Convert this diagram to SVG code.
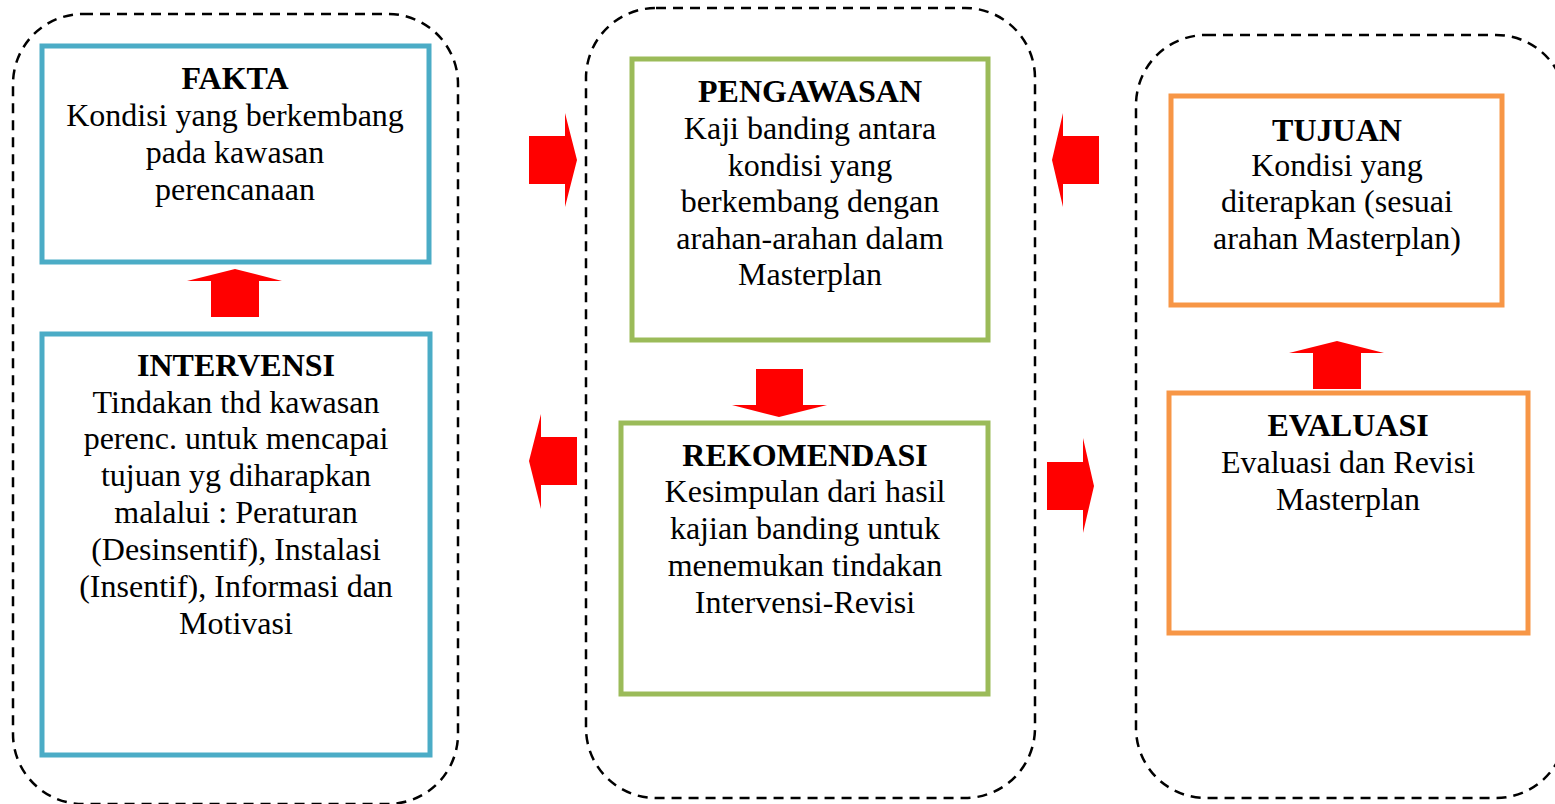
<svg xmlns="http://www.w3.org/2000/svg" width="1555" height="804" viewBox="0 0 1555 804">
<style>
.cont{fill:none;stroke:#000;stroke-width:2.5;stroke-dasharray:10 7}
.b{fill:#fff;stroke:#4BACC6;stroke-width:5}
.g{fill:#fff;stroke:#9BBB59;stroke-width:5}
.o{fill:#fff;stroke:#F79646;stroke-width:5}
text{font-family:"Liberation Serif","Times New Roman",serif;font-size:32px;fill:#000;text-anchor:middle}
.t{font-weight:bold}
.arr{fill:#FF0000}
</style>
<rect width="1555" height="804" fill="#fff"/>
<g id="containers">
<rect class="cont" x="13" y="14" width="445" height="790" rx="70"/>
<rect class="cont" x="586" y="8" width="449" height="790" rx="70"/>
<rect class="cont" x="1136" y="35" width="430" height="763" rx="70"/>
</g>
<g id="fakta">
<rect class="b" x="42" y="46" width="387" height="216"/>
<text class="t" x="235" y="89">FAKTA</text>
<text x="235" y="126">Kondisi yang berkembang</text>
<text x="235" y="163">pada kawasan</text>
<text x="235" y="200">perencanaan</text>
</g>
<g id="intervensi">
<rect class="b" x="42" y="334" width="388" height="421"/>
<text class="t" x="236" y="376">INTERVENSI</text>
<text x="236" y="413">Tindakan thd kawasan</text>
<text x="236" y="449">perenc. untuk mencapai</text>
<text x="236" y="486">tujuan yg diharapkan</text>
<text x="236" y="523">malalui : Peraturan</text>
<text x="236" y="560">(Desinsentif), Instalasi</text>
<text x="236" y="597">(Insentif), Informasi dan</text>
<text x="236" y="634">Motivasi</text>
</g>
<g id="pengawasan">
<rect class="g" x="632" y="59" width="356" height="281"/>
<text class="t" x="810" y="102">PENGAWASAN</text>
<text x="810" y="139">Kaji banding antara</text>
<text x="810" y="176">kondisi yang</text>
<text x="810" y="212">berkembang dengan</text>
<text x="810" y="249">arahan-arahan dalam</text>
<text x="810" y="285">Masterplan</text>
</g>
<g id="rekomendasi">
<rect class="g" x="621" y="423" width="367" height="271"/>
<text class="t" x="805" y="466">REKOMENDASI</text>
<text x="805" y="502">Kesimpulan dari hasil</text>
<text x="805" y="539">kajian banding untuk</text>
<text x="805" y="576">menemukan tindakan</text>
<text x="805" y="613">Intervensi-Revisi</text>
</g>
<g id="tujuan">
<rect class="o" x="1171" y="96" width="331" height="209"/>
<text class="t" x="1337" y="141">TUJUAN</text>
<text x="1337" y="176">Kondisi yang</text>
<text x="1337" y="212">diterapkan (sesuai</text>
<text x="1337" y="249">arahan Masterplan)</text>
</g>
<g id="evaluasi">
<rect class="o" x="1169" y="393" width="359" height="240"/>
<text class="t" x="1348" y="436">EVALUASI</text>
<text x="1348" y="473">Evaluasi dan Revisi</text>
<text x="1348" y="510">Masterplan</text>
</g>
<g id="connectors">
<polygon class="arr" points="529,136 565,136 565,113 577,160 565,207 565,184 529,184"/>
<polygon class="arr" points="211,317 211,281 187,281 235,269 282,281 259,281 259,317"/>
<polygon class="arr" points="1099,136 1063,136 1063,113 1052,160 1063,207 1063,184 1099,184"/>
<polygon class="arr" points="577,437 541,437 541,414 529,461 541,509 541,485 577,485"/>
<polygon class="arr" points="1047,462 1083,462 1083,438 1094,486 1083,533 1083,510 1047,510"/>
<polygon class="arr" points="756,369 803,369 803,405 827,405 779,417 732,405 756,405"/>
<polygon class="arr" points="1313,389 1313,353 1289,353 1337,341 1384,353 1361,353 1361,389"/>
</g>
</svg>
